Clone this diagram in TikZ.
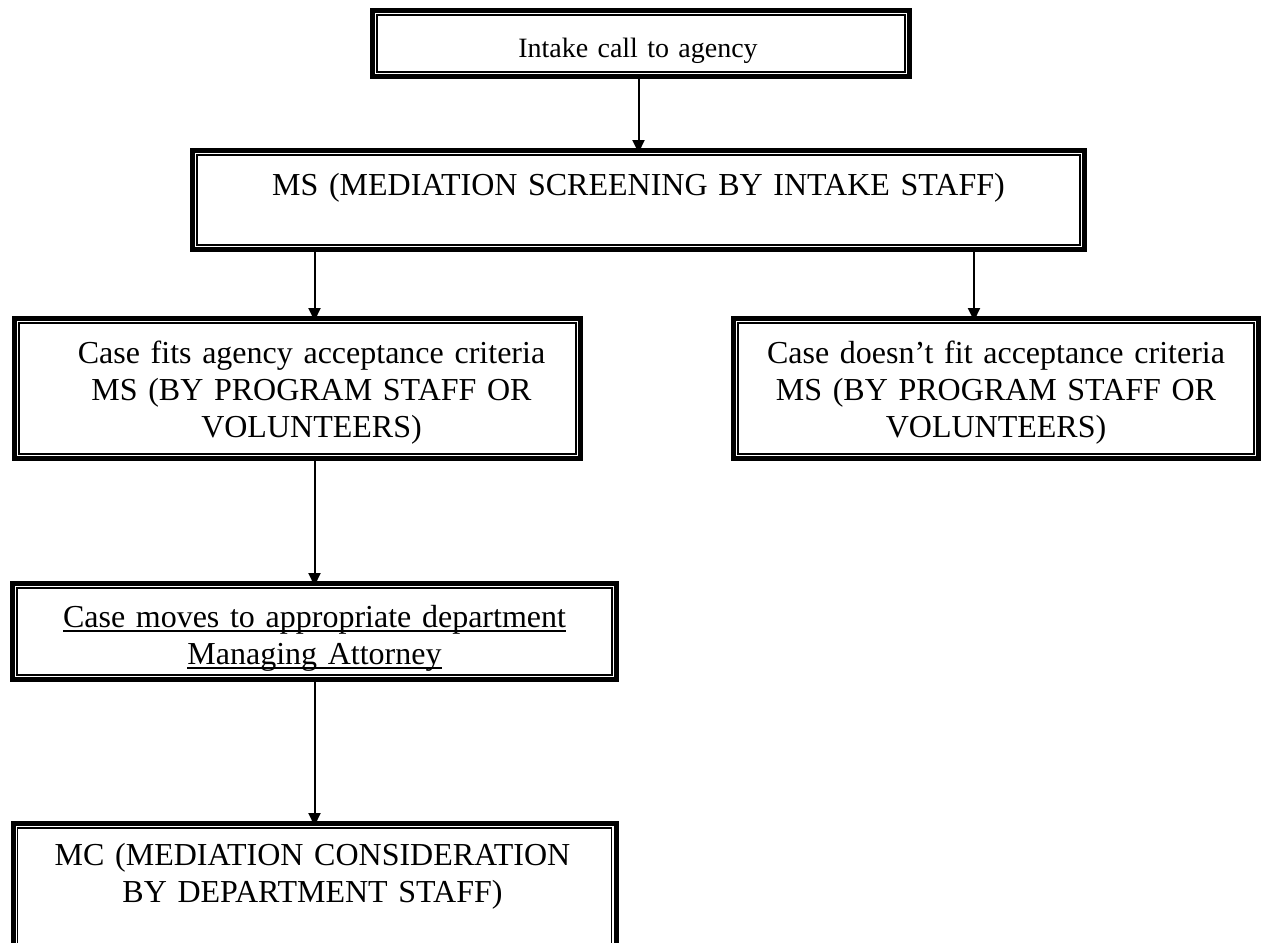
\documentclass[tikz,border=0pt]{standalone}
\usepackage{fontspec}
\setmainfont{Liberation Serif}
\usepackage{tikz}
\usetikzlibrary{arrows.meta,positioning,calc}

% underline that runs through the descenders
\newlength{\underlen}
\newcommand{\lineunder}[1]{\leavevmode\settowidth{\underlen}{#1}\rlap{\rule[-4.5pt]{\underlen}{1.5pt}}#1}

\tikzset{
    frame/.style={draw=black, line width=1.2pt, fill=white, inner sep=0pt, outer sep=7pt,
                  preaction={draw=black, line width=14pt},
                  preaction={draw=white, line width=4pt}},
    txt/.style={text width=#1, align=center, inner sep=0pt, anchor=base},
    arr/.style={-{Triangle[width=12pt,length=13pt]}, line width=2pt, shorten >=-5pt}
}

\begin{document}
\begin{tikzpicture}[x=1pt, y=-1pt, font=\fontsize{32}{37}\selectfont]
    % page size
    \useasboundingbox (0,0) rectangle (1263,942);

    % the boxes
    \node[frame, minimum width=528, minimum height=57] (intake)   at (641,43.5)   {};
    \node[frame, minimum width=883, minimum height=90] (screen)   at (638.5,200)  {};
    \node[frame, minimum width=557, minimum height=131] (fits)    at (297.5,388.5) {};
    \node[frame, minimum width=516, minimum height=131] (nofit)   at (996,388.5)  {};
    \node[frame, minimum width=595, minimum height=87] (moves)    at (314.5,631.5) {};
    \node[frame, minimum width=594, minimum height=125] (consider) at (314.5,890.5) {};

    % the texts
    \node[txt=500, font=\fontsize{28}{33}\selectfont] (intaketext) at ($(intake.north)+(-3,50)$) {Intake call to agency};
    \node[txt=860] (screentext) at ($(screen.north)+(0,47)$) {MS (MEDIATION SCREENING BY INTAKE STAFF)};
    \node[txt=540] (fitstext) at ($(fits.north)+(14,47)$)
        {Case fits agency acceptance criteria\\MS (BY PROGRAM STAFF OR\\VOLUNTEERS)};
    \node[txt=500] (nofittext) at ($(nofit.north)+(0,47)$)
        {Case doesn’t fit acceptance criteria\\MS (BY PROGRAM STAFF OR\\VOLUNTEERS)};
    \node[txt=575] (movestext) at ($(moves.north)+(0,46)$)
        {\lineunder{Case moves to appropriate department}\\\lineunder{Managing Attorney}};
    \node[txt=575] (considertext) at ($(consider.north)+(-2,44)$)
        {MC (MEDIATION CONSIDERATION\\BY DEPARTMENT STAFF)};

    % the arrows
    \draw[arr] (intake.south -| screen.north) -- (screen.north);
    \draw[arr] (screen.south -| moves.north) -- (fits.north -| moves.north);
    \draw[arr] ([xshift=-22pt]nofit.north |- screen.south) -- ([xshift=-22pt]nofit.north);
    \draw[arr] (fits.south -| moves.north) -- (moves.north);
    \draw[arr] (moves.south) -- (consider.north);
\end{tikzpicture}
\end{document}
